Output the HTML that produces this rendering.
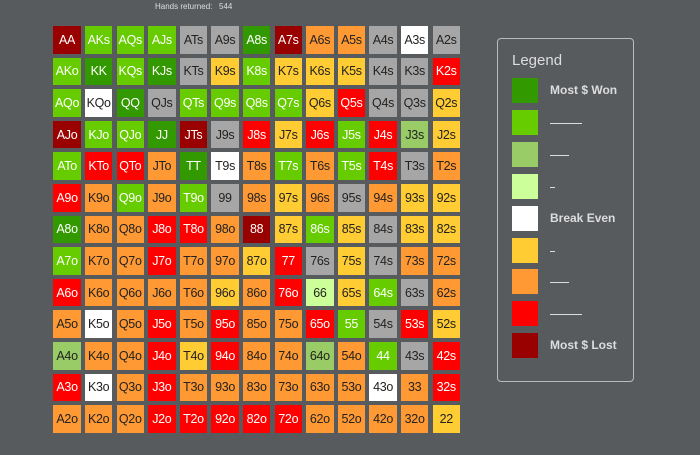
<!DOCTYPE html>
<html><head><meta charset="utf-8">
<style>
body{margin:0;width:700px;height:455px;background:#585b5e;font-family:"Liberation Sans",sans-serif;position:relative;overflow:hidden}
.hr{position:absolute;left:155px;top:2px;font-size:8px;color:#ddd}
.cell{position:absolute;width:27.5px;height:27.5px;font-size:12.5px;display:flex;align-items:center;justify-content:center;letter-spacing:-0.3px}
.legend{position:absolute;left:497px;top:38px;width:137px;height:344px;border:1px solid #bbb;border-radius:4px;box-sizing:border-box}
.lt{position:absolute;left:14px;top:13px;font-size:15px;color:#ddd}
.sw{position:absolute;left:14px;width:26px;height:25px}
.lab{position:absolute;left:52px;font-size:12px;font-weight:bold;color:#ddd}
.dash{position:absolute;left:52px;height:1px;background:#ddd}
</style></head><body>
<div class="hr">Hands returned:&nbsp;&nbsp;&nbsp;544</div>
<div id="grid"></div>
<div class="legend">
<div class="lt">Legend</div>
</div>
<script>
const ranks = ["A","K","Q","J","T","9","8","7","6","5","4","3","2"];
const rowsData = [
"8,1,1,1,g,g,0,8,6,6,g,4,g",
"1,0,1,0,g,5,1,5,5,5,g,g,7",
"1,4,0,g,1,1,1,1,5,7,g,g,5",
"8,1,1,0,8,g,7,5,7,1,7,2,5",
"1,7,7,6,0,4,6,1,6,1,7,g,6",
"7,6,1,6,1,g,6,5,6,g,6,5,5",
"0,6,6,7,7,6,8,5,1,5,g,5,5",
"1,6,6,7,6,6,5,7,g,5,g,6,6",
"7,6,6,6,6,5,6,7,3,5,1,g,6",
"6,4,6,7,6,7,6,6,7,1,g,7,5",
"2,6,6,7,5,7,6,6,2,6,1,g,7",
"7,4,6,7,6,6,6,6,6,6,4,6,7",
"6,6,6,7,7,7,7,7,6,6,6,6,5"];
const palette = {"0":"#339900","1":"#66cc00","2":"#99cc66","3":"#ccff99","4":"#ffffff","5":"#ffcc33","6":"#ff9933","7":"#ff0000","8":"#990000","g":"#a6a6a6"};
const textCol = {"0":"#fff","1":"#fff","2":"#222","3":"#222","4":"#222","5":"#222","6":"#222","7":"#fff","8":"#fff","g":"#222"};
const legendLabels = ["Most $ Won","","","","Break Even","","","","Most $ Lost"];
const legendKeys = ["0","1","2","3","4","5","6","7","8"];
const dashLens = [0,32,19,5,0,5,19,32,0];
const grid = document.getElementById('grid');
const x0=53.3,y0=26,p=31.6;
rowsData.forEach((row,r)=>{
  row.split(',').forEach((lv,c)=>{
    let name;
    if(r===c) name=ranks[r]+ranks[c];
    else if(c>r) name=ranks[r]+ranks[c]+"s";
    else name=ranks[c]+ranks[r]+"o";
    const el=document.createElement('div');
    el.className='cell';
    
    
    el.style.left=(x0+c*p)+'px';el.style.top=(y0+r*p)+'px';
    el.style.background=palette[lv];el.style.color=textCol[lv];
    el.textContent=name;
    grid.appendChild(el);
  });
});
const lg=document.querySelector('.legend');
legendKeys.forEach((k,i)=>{
  const top=39+i*31.9;
  const s=document.createElement('div');
  s.className='sw';s.style.top=top+'px';s.style.background=palette[k];
  
  
  lg.appendChild(s);
  if(legendLabels[i]){
    const l=document.createElement('div');
    l.className='lab';l.style.top=(top+5)+'px';l.textContent=legendLabels[i];
    
    
    lg.appendChild(l);
  } else {
    const d=document.createElement('div');
    d.className='dash';d.style.top=(top+13)+'px';d.style.width=dashLens[i]+'px';
    
    
    lg.appendChild(d);
  }
});
</script>
</body></html>
